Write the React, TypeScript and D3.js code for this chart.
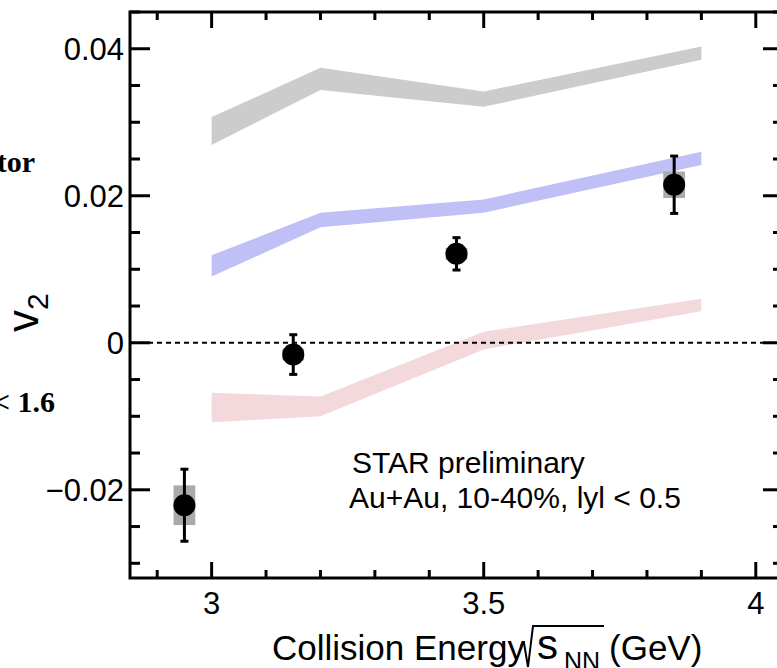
import React from "react";
import * as d3 from "d3";

// Model bands (x = collision energy)
const modelX = [3.0, 3.2, 3.5, 3.9];
const grayHi = [0.0307, 0.0374, 0.0342, 0.0403];
const grayLo = [0.0269, 0.0344, 0.0321, 0.0385];
const blueHi = [0.0119, 0.0177, 0.0195, 0.026];
const blueLo = [0.009, 0.0157, 0.0177, 0.0242];
const redHi = [-0.0068, -0.0073, 0.0015, 0.006];
const redLo = [-0.0108, -0.01, -0.0009, 0.0043];

// STAR data
const dataX = [2.95, 3.15, 3.45, 3.85];
const dataY = [-0.0221, -0.0016, 0.0121, 0.0215];
const statErr = [0.0049, 0.0027, 0.0022, 0.0039];
const sysErr = [0.0027, 0.0008, 0.0008, 0.0018];

const xMajor = [3, 3.5, 4];
const xTickLabels = ["3", "3.5", "4"];
const yMajor = [-0.02, 0, 0.02, 0.04];
const yTickLabels = ["\u22120.02", "0", "0.02", "0.04"];

const W = 777;
const H = 668;
const L = 130, R = 783, T = 12, B = 578;

export default function App() {
  const x = d3.scaleLinear().domain([2.85, 4.05]).range([L, R]);
  const y = d3.scaleLinear().domain([-0.032, 0.045]).range([B, T]);

  const xMinor = d3.range(29, 41).map((v) => v / 10).filter((v) => !xMajor.some((m) => Math.abs(m - v) < 1e-6));
  const yMinor = d3.range(-6, 10).map((v) => v * 0.005).filter((v) => !yMajor.some((m) => Math.abs(m - v) < 1e-6));

  const band = (hi: number[], lo: number[]) =>
    d3
      .area<number>()
      .x((_, i) => x(modelX[i]))
      .y0((_, i) => y(lo[i]))
      .y1((_, i) => y(hi[i]))(modelX) || "";

  const sans = "'Liberation Sans', Arial, Helvetica, sans-serif";
  const serif = "'Liberation Serif', 'Times New Roman', serif";
  const boxHalfW = x(2.97) - x(2.95);

  return (
    <svg width={W} height={H} style={{ position: "absolute", left: 0, top: 0, background: "#fff" }}>
      <rect x={0} y={0} width={W} height={H} fill="#fff" />
      {/* cut-off labels from neighbouring panel */}
      <text x={35} y={172} textAnchor="end" fontFamily={serif} fontWeight="bold" fontSize={30} fill="#000">tor</text>
      <text x={55} y={412} textAnchor="end" fontFamily={serif} fontWeight="bold" fontSize={30} fill="#000">&lt; 1.6</text>

      {/* bands */}
      <path d={band(grayHi, grayLo)} fill="#cccccc" />
      <path d={band(blueHi, blueLo)} fill="#c0c0f7" />
      <path d={band(redHi, redLo)} fill="#f3d9dc" />

      {/* zero line */}
      <line x1={L} x2={R} y1={y(0)} y2={y(0)} stroke="#000" strokeWidth={2} strokeDasharray="5,4" />

      {/* data */}
      {dataX.map((dx, i) => (
        <g key={i}>
          <rect
            x={x(dx) - boxHalfW}
            width={2 * boxHalfW}
            y={y(dataY[i] + sysErr[i])}
            height={y(dataY[i] - sysErr[i]) - y(dataY[i] + sysErr[i])}
            fill="#aaaaaa"
          />
          <line x1={x(dx)} x2={x(dx)} y1={y(dataY[i] + statErr[i])} y2={y(dataY[i] - statErr[i])} stroke="#000" strokeWidth={3} />
          <line x1={x(dx) - 4} x2={x(dx) + 4} y1={y(dataY[i] + statErr[i])} y2={y(dataY[i] + statErr[i])} stroke="#000" strokeWidth={3} />
          <line x1={x(dx) - 4} x2={x(dx) + 4} y1={y(dataY[i] - statErr[i])} y2={y(dataY[i] - statErr[i])} stroke="#000" strokeWidth={3} />
          <circle cx={x(dx)} cy={y(dataY[i])} r={11} fill="#000" />
        </g>
      ))}

      {/* frame */}
      <rect x={L} y={T} width={R - L} height={B - T} fill="none" stroke="#000" strokeWidth={3} />

      {/* x ticks (bottom & top) */}
      {xMajor.map((v) => (
        <g key={"xm" + v}>
          <line x1={x(v)} x2={x(v)} y1={B} y2={B - 16} stroke="#000" strokeWidth={3} />
          <line x1={x(v)} x2={x(v)} y1={T} y2={T + 16} stroke="#000" strokeWidth={3} />
        </g>
      ))}
      {xMinor.map((v) => (
        <g key={"xn" + v}>
          <line x1={x(v)} x2={x(v)} y1={B} y2={B - 8} stroke="#000" strokeWidth={3} />
          <line x1={x(v)} x2={x(v)} y1={T} y2={T + 8} stroke="#000" strokeWidth={3} />
        </g>
      ))}
      {/* y ticks (left & right) */}
      {yMajor.map((v) => (
        <g key={"ym" + v}>
          <line x1={L} x2={L + 20} y1={y(v)} y2={y(v)} stroke="#000" strokeWidth={3} />
          <line x1={R} x2={R - 20} y1={y(v)} y2={y(v)} stroke="#000" strokeWidth={3} />
        </g>
      ))}
      {yMinor.map((v) => (
        <g key={"yn" + v}>
          <line x1={L} x2={L + 10} y1={y(v)} y2={y(v)} stroke="#000" strokeWidth={3} />
          <line x1={R} x2={R - 10} y1={y(v)} y2={y(v)} stroke="#000" strokeWidth={3} />
        </g>
      ))}

      {/* tick labels */}
      {xMajor.map((v, i) => (
        <text key={"xl" + v} x={x(v)} y={614} textAnchor="middle" fontFamily={sans} fontSize={31} fill="#000">
          {xTickLabels[i]}
        </text>
      ))}
      {yMajor.map((v, i) => (
        <text key={"yl" + v} x={124} y={y(v) + 11} textAnchor="end" fontFamily={sans} fontSize={31} fill="#000">
          {yTickLabels[i]}
        </text>
      ))}

      {/* y title */}
      <text transform="translate(38,332) rotate(-90)" fontFamily={sans} fontSize={44} fill="#000">
        v<tspan fontSize={30} dy={10}>2</tspan>
      </text>

      {/* x title */}
      <text x={272} y={660} fontFamily={sans} fontSize={35} fill="#000">Collision Energy</text>
      <path d="M521,645 L524,643 L528,667 L533,626 L604,626" fill="none" stroke="#000" strokeWidth={2} />
      <text x={537} y={659} fontFamily={sans} fontSize={42} fill="#000">s</text>
      <text x={564} y={670} fontFamily={sans} fontSize={25} fill="#000">NN</text>
      <text x={609} y={660} fontFamily={sans} fontSize={35} fill="#000">(GeV)</text>

      {/* annotation */}
      <text x={352} y={473} fontFamily={sans} fontSize={30} fill="#000">STAR preliminary</text>
      <text x={349} y={508} fontFamily={sans} fontSize={30} fill="#000">Au+Au, 10-40%, lyl &lt; 0.5</text>
    </svg>
  );
}
